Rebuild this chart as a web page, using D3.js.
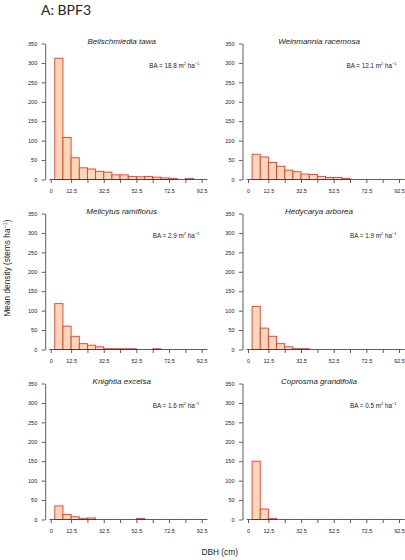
<!DOCTYPE html>
<html>
<head>
<meta charset="utf-8">
<script src="https://cdn.jsdelivr.net/npm/d3@7"></script>
<style>
  html, body { margin: 0; padding: 0; background: #fff; }
  svg text { font-family: "Liberation Sans", Arial, sans-serif; fill: #222; }
  .title { font-family: Lato, "Open Sans", sans-serif; }
</style>
</head>
<body>
<svg id="chart" width="405" height="560"></svg>
<script>
// Chart data
const species = ["Beilschmiedia tawa", "Weinmannia racemosa", "Melicytus ramiflorus",
                 "Hedycarya arborea", "Knightia excelsa", "Coprosma grandifolia"];
const basalArea = ["18.8", "12.1", "2.9", "1.9", "1.6", "0.5"];

// DBH bins (cm), lower edges, each 5 cm wide
const binStarts = [2.5, 7.5, 12.5, 17.5, 22.5, 27.5, 32.5, 37.5, 42.5, 47.5,
                   52.5, 57.5, 62.5, 67.5, 72.5, 77.5, 82.5];

// Mean density (stems per ha) per bin
const beilschmiedia = [312, 108, 56, 30, 27, 21, 19, 12, 12, 8, 7, 8, 6, 4, 3, 0, 3];
const weinmannia    = [65, 58, 44, 34, 24, 20, 14, 13, 8, 5, 5, 3, 0, 0, 0, 0, 0];
const melicytus     = [118, 60, 34, 15, 11, 7, 2, 2, 2, 2, 0, 0, 2, 0, 0, 0, 0];
const hedycarya     = [111, 55, 34, 15, 7, 2, 2, 0, 0, 0, 0, 0, 0, 0, 0, 0, 0];
const knightia      = [35, 13, 7, 3, 4, 0, 0, 0, 0, 0, 3, 0, 0, 0, 0, 0, 0];
const coprosma      = [150, 27, 3, 0, 0, 0, 0, 0, 0, 0, 0, 0, 0, 0, 0, 0, 0];
const densities = [beilschmiedia, weinmannia, melicytus, hedycarya, knightia, coprosma];

// Axis ticks
const xTicks = [0, 12.5, 22.5, 32.5, 42.5, 52.5, 62.5, 72.5, 82.5, 92.5];
const xTickLabels = ["0", "12.5", "", "32.5", "", "52.5", "", "72.5", "", "92.5"];
const yTicks = [0, 50, 100, 150, 200, 250, 300, 350];

const binWidth = 5;
const FILL = "#fdd7b6";
const STROKE = "#e33b35";
const AXIS = "#333";

// Layout
const colX = [50.7, 248];
const rowTop = [43.5, 213.5, 383.5];
const pw = 151, ph = 136;

const svg = d3.select("#chart");

const x = d3.scaleLinear().domain([0, 92.5]).range([0, pw]);
const y = d3.scaleLinear().domain([0, 350]).range([ph, 0]);

svg.append("text")
  .attr("class", "title")
  .attr("x", 41)
  .attr("y", 15)
  .attr("font-size", "14px")
  .text("A: BPF3");

species.forEach((name, i) => {
  const col = i % 2, row = Math.floor(i / 2);
  const g = svg.append("g")
    .attr("transform", `translate(${colX[col]},${rowTop[row]})`);

  // bars (empty bins are not drawn)
  const bins = binStarts.map((b, k) => ({ x0: b, x1: b + binWidth, v: densities[i][k] }))
    .filter(d => d.v > 0);

  g.selectAll("rect.bar")
    .data(bins)
    .join("rect")
    .attr("class", "bar")
    .attr("x", d => x(d.x0))
    .attr("width", d => x(d.x1) - x(d.x0))
    .attr("y", d => y(d.v))
    .attr("height", d => y(0) - y(d.v))
    .attr("fill", FILL)
    .attr("stroke", STROKE)
    .attr("stroke-width", 0.9);

  // y axis
  g.append("g")
    .attr("transform", "translate(-5.5,0)")
    .call(d3.axisLeft(y).tickValues(yTicks).tickSize(3.5).tickSizeOuter(0).tickPadding(4.5))
    .call(a => a.selectAll("text").attr("font-size", "5.5px").attr("fill", "#222")
      .style("font-family", "Liberation Sans, Arial, sans-serif"))
    .call(a => a.selectAll("line, path").attr("stroke", AXIS).attr("stroke-width", 0.8));

  // x axis
  g.append("g")
    .attr("transform", `translate(0,${ph})`)
    .call(d3.axisBottom(x).tickValues(xTicks).tickSize(3.5).tickPadding(6)
      .tickFormat((d, k) => xTickLabels[k]))
    .call(a => a.select(".domain").remove())
    .call(a => a.selectAll("text").attr("font-size", "5.5px").attr("fill", "#222")
      .style("font-family", "Liberation Sans, Arial, sans-serif"))
    .call(a => a.selectAll("line").attr("stroke", AXIS).attr("stroke-width", 0.8));

  g.append("line")
    .attr("x1", x(-0.8)).attr("x2", x(96))
    .attr("y1", y(0)).attr("y2", y(0))
    .attr("stroke", AXIS)
    .attr("stroke-width", 0.8);

  // species name
  g.append("text")
    .attr("x", x(43.5))
    .attr("y", 0.5)
    .attr("text-anchor", "middle")
    .attr("font-size", "8px")
    .attr("font-style", "italic")
    .text(name);

  // basal area
  const ba = g.append("text")
    .attr("x", x(91))
    .attr("y", 24.5)
    .attr("text-anchor", "end")
    .attr("font-size", "6.3px");
  ba.append("tspan").text(`BA = ${basalArea[i]} m`);
  ba.append("tspan").attr("font-size", "4px").attr("dy", -2.6).text("2");
  ba.append("tspan").attr("dy", 2.6).text(" ha");
  ba.append("tspan").attr("font-size", "4px").attr("dy", -2.6).text("\u22121");
});

// axis titles
const yl = svg.append("text")
  .attr("transform", "translate(10.2,268) rotate(-90)")
  .attr("text-anchor", "middle")
  .attr("font-size", "8.3px");
yl.append("tspan").text("Mean density (stems ha");
yl.append("tspan").attr("font-size", "5.5px").attr("dy", -3.2).text("\u22121");
yl.append("tspan").attr("dy", 3.2).text(")");

svg.append("text")
  .attr("x", 201.5)
  .attr("y", 554.5)
  .attr("font-size", "8.3px")
  .text("DBH (cm)");
</script>
</body>
</html>
